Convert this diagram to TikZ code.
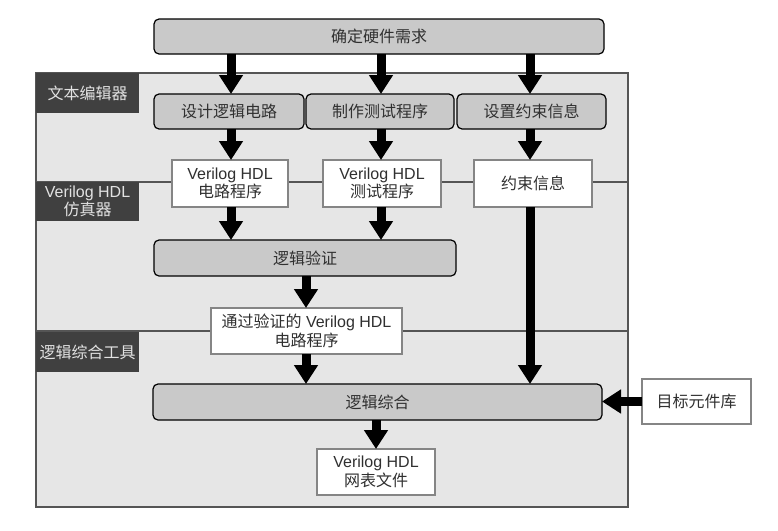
\documentclass[tikz,border=0pt]{standalone}
\usepackage{fontspec}
\setmainfont{Liberation Sans}
\newfontfamily\cjk{Noto Sans CJK SC}
\usetikzlibrary{arrows.meta}
\definecolor{panelfill}{HTML}{E6E6E6}
\definecolor{panelline}{HTML}{555555}
\definecolor{boxfill}{HTML}{C9C9C9}
\definecolor{darklab}{HTML}{404040}
\definecolor{labtext}{HTML}{E2E2E2}
\definecolor{wline}{HTML}{858585}
\definecolor{txt}{HTML}{303030}
\begin{document}
\begin{tikzpicture}[x=1pt,y=-1pt,
  every node/.style={inner sep=0pt, outer sep=0pt, text=txt, font=\fontsize{16}{18.5}\selectfont, align=center},
  graybox/.style={draw=black, line width=1.2pt, fill=boxfill, rounded corners=5pt},
  whitebox/.style={draw=wline, line width=2pt, fill=white},
  darkbox/.style={fill=darklab, text=labtext},
  bigarrow/.style={line width=9pt, -{Triangle[width=23pt,length=19pt]}, black}
]
\fill[white] (0,0) rectangle (778,530);
\useasboundingbox (0,0) rectangle (778,530);

% panel
\node[draw=panelline, line width=1.2pt, fill=panelfill, minimum width=592pt, minimum height=434pt] (panel) at (332,290) {};
\coordinate (d1l) at (36,182);
\coordinate (d1r) at (628,182);
\coordinate (d2l) at (36,331);
\coordinate (d2r) at (628,331);
\draw[panelline, line width=1.2pt] (d1l) -- (d1r);
\draw[panelline, line width=1.2pt] (d2l) -- (d2r);

% labels
\node[darkbox, minimum width=103pt, minimum height=40pt] (lab1) at (87.5,93) {\cjk 文本编辑器};
\node[darkbox, minimum width=103pt, minimum height=39pt] (lab2) at (87.5,201.5) {Verilog HDL\\[-1pt]{\cjk 仿真器}};
\node[darkbox, minimum width=103pt, minimum height=40pt] (lab3) at (87.5,352) {\cjk 逻辑综合工具};

% boxes
\node[graybox, minimum width=450pt, minimum height=35pt] (top) at (379,36.5) {\cjk 确定硬件需求};
\node[graybox, minimum width=150pt, minimum height=35pt] (A) at (229,111.5) {\cjk 设计逻辑电路};
\node[graybox, minimum width=148pt, minimum height=35pt] (B) at (380,111.5) {\cjk 制作测试程序};
\node[graybox, minimum width=149pt, minimum height=35pt] (C) at (531.5,111.5) {\cjk 设置约束信息};

\node[whitebox, minimum width=116pt, minimum height=47pt] (D) at (230,183.5) {Verilog HDL\\{\cjk 电路程序}};
\node[whitebox, minimum width=118pt, minimum height=47pt] (E) at (382,183.5) {Verilog HDL\\{\cjk 测试程序}};
\node[whitebox, minimum width=118pt, minimum height=47pt] (F) at (533,183.5) {\cjk 约束信息};

\node[graybox, minimum width=302pt, minimum height=36pt] (G) at (305,258) {\cjk 逻辑验证};
\node[whitebox, minimum width=191pt, minimum height=46pt] (H) at (306.5,331) {{\cjk 通过验证的} Verilog HDL\\{\cjk 电路程序}};
\node[graybox, minimum width=449pt, minimum height=36pt] (I) at (377.5,402) {\cjk 逻辑综合};
\node[whitebox, minimum width=118pt, minimum height=46pt] (J) at (376,472) {Verilog HDL\\{\cjk 网表文件}};
\node[whitebox, minimum width=109pt, minimum height=45pt] (K) at (696.5,401.5) {\cjk 目标元件库};

% arrows
\coordinate (x1) at (231,0);
\coordinate (x2) at (381,0);
\coordinate (x3) at (530,0);
\coordinate (x4) at (306,0);
\coordinate (x5) at (376,0);
\draw[bigarrow] (top.south -| x1) -- (A.north -| x1);
\draw[bigarrow] (top.south -| x2) -- (B.north -| x2);
\draw[bigarrow] (top.south -| x3) -- (C.north -| x3);
\draw[bigarrow] (A.south -| x1) -- (D.north -| x1);
\draw[bigarrow] (B.south -| x2) -- (E.north -| x2);
\draw[bigarrow] (C.south -| x3) -- (F.north -| x3);
\draw[bigarrow] (D.south -| x1) -- (G.north -| x1);
\draw[bigarrow] (E.south -| x2) -- (G.north -| x2);
\draw[bigarrow] (G.south -| x4) -- (H.north -| x4);
\draw[bigarrow] (H.south -| x4) -- (I.north -| x4);
\draw[bigarrow] (F.south -| x3) -- (I.north -| x3);
\draw[bigarrow] (I.south -| x5) -- (J.north -| x5);
\draw[bigarrow] (K.west) -- (I.east |- K.west);
\end{tikzpicture}
\end{document}
